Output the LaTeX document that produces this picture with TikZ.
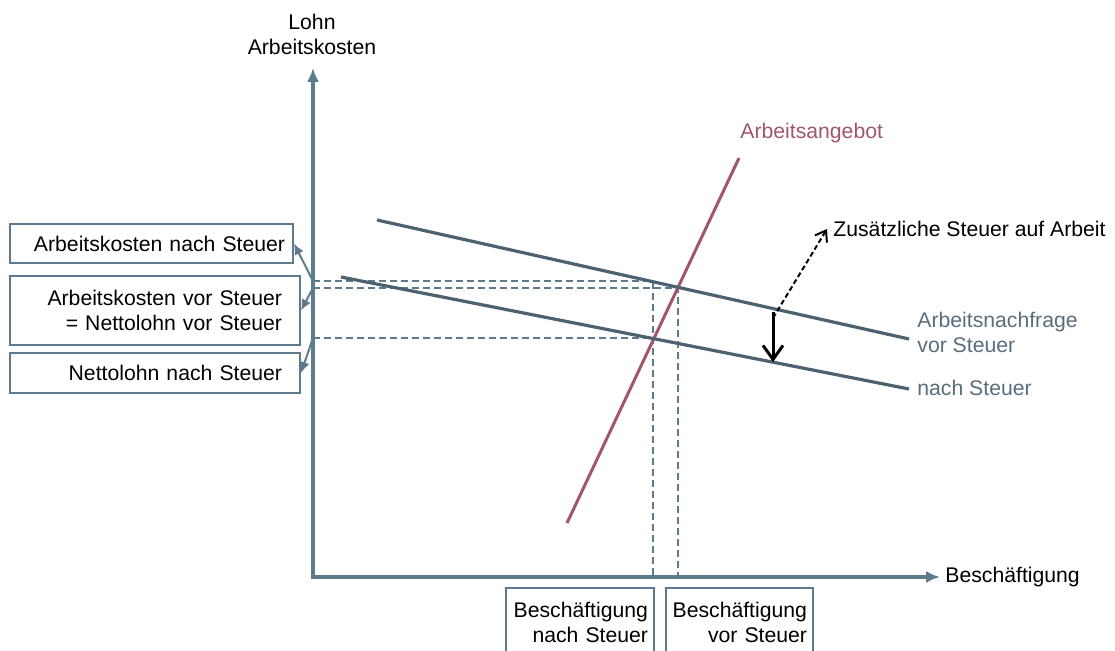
\documentclass[tikz,border=0pt]{standalone}
\usepackage{fontspec}
\setmainfont{Liberation Sans}
\usepackage{xcolor}
\usepackage{tikz}
\usetikzlibrary{arrows.meta}
\definecolor{axisblue}{RGB}{94,123,141}
\definecolor{demandblue}{RGB}{76,98,112}
\definecolor{supplyred}{RGB}{160,86,108}
\definecolor{labelblue}{RGB}{88,110,124}
\tikzstyle{draw:axis}=[{Latex[length=7pt,width=6pt]}-{Latex[length=7pt,width=6pt]}, line width=2pt, axisblue]
\tikzstyle{draw:demand}=[line width=1.6pt, demandblue]
\tikzstyle{draw:supply}=[line width=1.5pt, supplyred]
\tikzstyle{draw:guide}=[line width=1pt, axisblue, dash pattern=on 3.5pt off 2pt]
\tikzstyle{draw:pointer}=[-{Latex[length=5.5pt,width=5pt]}, line width=1pt, axisblue]
\tikzstyle{draw:shift}=[-{Straight Barb[length=7pt,width=10pt]}, line width=1.5pt, black]
\tikzstyle{draw:hint}=[-{Straight Barb[length=5pt,width=7pt]}, line width=1pt, black, dash pattern=on 2.5pt off 1.5pt]
\tikzstyle{node:box}=[draw=axisblue, line width=1pt, align=right, inner ysep=0pt]
\tikzstyle{node:label}=[inner sep=0pt]

\begin{document}
\begin{tikzpicture}[x=0.5pt, y=-0.5pt, every node/.style={font=\fontsize{10.6}{12.5}\selectfont}]
        \useasboundingbox (0,0) rectangle (1115,651);
        \clip (0,0) rectangle (1115,651);

        % Points
        \coordinate (origin) at (313,577);
        \coordinate (ytip) at (313,68);
        \coordinate (xtip) at (940,577);
        \coordinate (supplylow) at (567,523);
        \coordinate (supplyhigh) at (739,158);
        \coordinate (demandpre1) at (377,220);
        \coordinate (demandpre2) at (909,339);
        \coordinate (demandpost1) at (341,277);
        \coordinate (demandpost2) at (909,389);
        \coordinate (eqpre) at (678,288);
        \coordinate (eqpost) at (653,338);
        \coordinate (costpost) at (653,281);

        % Guide lines
        \draw[draw:guide] (costpost -| origin) -- (costpost) -- (costpost |- origin);
        \draw[draw:guide] (eqpre -| origin) -- (eqpre) -- (eqpre |- origin);
        \draw[draw:guide] (eqpost -| origin) -- (eqpost);

        % Axes
        \draw[draw:axis] (ytip) -- (origin) -- (xtip);
        \node[node:label, align=center] (ylabel) at (312,34) {Lohn\\Arbeitskosten};
        \node[node:label, anchor=west] (xlabel) at (945,577) {Beschäftigung};

        % Supply and demand
        \draw[draw:supply] (supplylow) -- (supplyhigh);
        \draw[draw:demand] (demandpre1) -- (demandpre2);
        \draw[draw:demand] (demandpost1) -- (demandpost2);
        \node[node:label, anchor=west, supplyred] (supplylabel) at (740,133) {Arbeitsangebot};
        \node[node:label, anchor=west, align=left, labelblue] (prelabel) at (917,332) {Arbeitsnachfrage\\vor Steuer};
        \node[node:label, anchor=west, labelblue] (postlabel) at (917,388) {nach Steuer};

        % Tax
        \coordinate (taxtop) at (773,312);
        \coordinate (taxbottom) at (773,362);
        \coordinate (taxstart) at (773,318);
        \node[node:label, anchor=west] (taxlabel) at (833,229) {Zusätzliche Steuer auf Arbeit};
        \draw[draw:shift] (taxtop) -- (taxbottom);
        \draw[draw:hint] (taxstart) -- ([xshift=-3pt]taxlabel.west);

        % Boxes on the wage axis
        \node[node:box, inner xsep=4pt, text width=133.5pt, minimum height=19.5pt] (costafter) at (151.5,243.5) {Arbeitskosten nach Steuer};
        \node[node:box, inner xsep=9pt, text width=127pt, minimum height=34.5pt] (netpre) at (155,310.5) {Arbeitskosten vor Steuer\\= Nettolohn vor Steuer};
        \node[node:box, inner xsep=9pt, text width=127pt, minimum height=20pt] (netafter) at (155,373) {Nettolohn nach Steuer};
        \draw[draw:pointer] (costpost -| origin) -- (costafter.east);
        \draw[draw:pointer] (eqpre -| origin) -- (netpre.east);
        \draw[draw:pointer] (eqpost -| origin) -- (netafter.east);

        % Boxes on the employment axis
        \node[node:box, anchor=north, inner xsep=3pt, text width=68pt, minimum height=34.5pt] (empafter) at (580,587) {Beschäftigung\\nach Steuer};
        \node[node:box, anchor=north, inner xsep=3pt, text width=67.5pt, minimum height=34.5pt] (emppre) at (739.5,587) {Beschäftigung\\vor Steuer};

    \end{tikzpicture}
\end{document}
